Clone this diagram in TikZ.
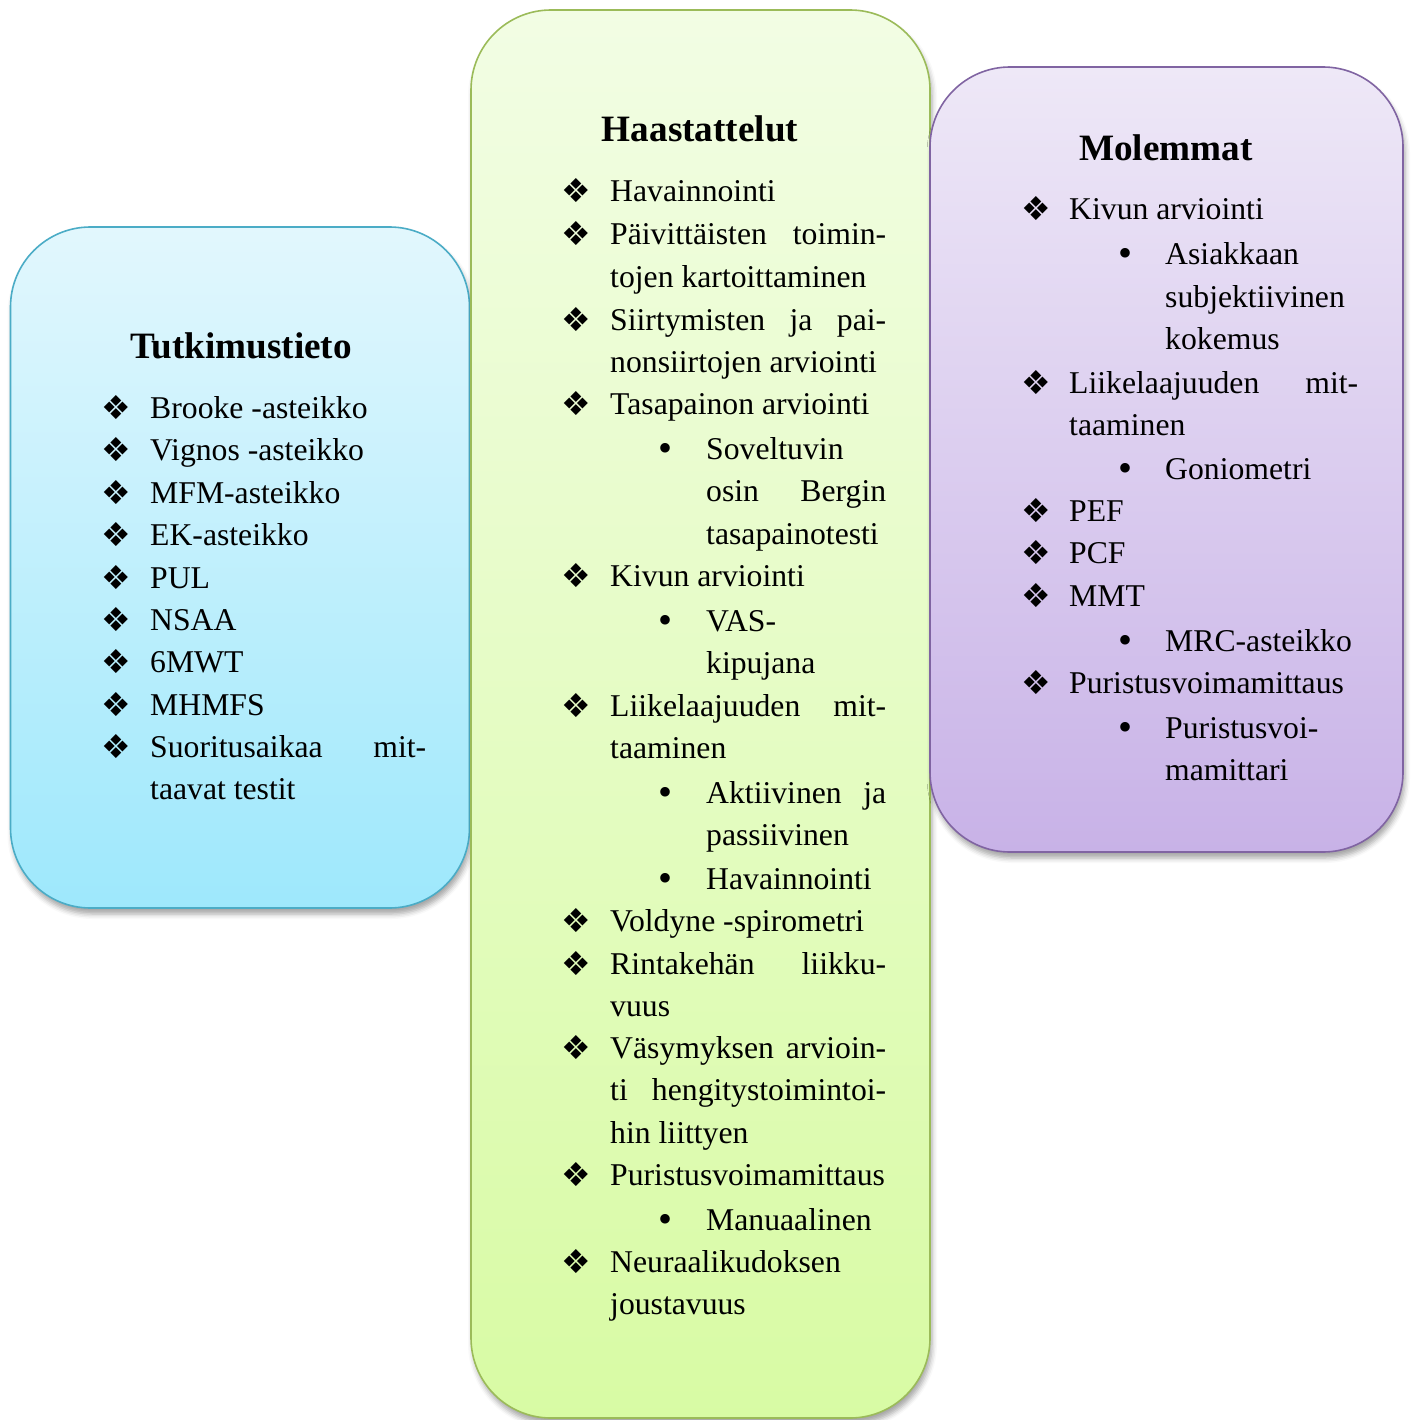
\documentclass[tikz,border=0pt]{standalone}
\usepackage{fontspec}
\setmainfont{Liberation Serif}
\newfontfamily\symfont{DejaVu Sans}
\usepackage{tikz}
\usetikzlibrary{shadows.blur}
\definecolor{tutedge}{RGB}{75,172,198}
\definecolor{tuttop}{RGB}{226,247,253}
\definecolor{tutbot}{RGB}{158,232,252}
\definecolor{haaedge}{RGB}{155,187,89}
\definecolor{haatop}{RGB}{242,253,228}
\definecolor{haabot}{RGB}{216,251,164}
\definecolor{moledge}{RGB}{128,100,162}
\definecolor{moltop}{RGB}{238,232,247}
\definecolor{molbot}{RGB}{200,178,231}
\newcommand{\itemfont}{\fontsize{31.7}{42.5}\selectfont}
\newcommand{\headfont}{\fontsize{37.2}{44}\selectfont\bfseries}
\newcommand{\wrap}[2]{\parbox[t]{#1}{#2}}
\hyphenpenalty=10000
\exhyphenpenalty=10000
\tikzset{
  panel/.style={rectangle,rounded corners=80pt,line width=1.6pt,inner sep=0pt,
    blur shadow={shadow xshift=2pt,shadow yshift=-6pt,shadow blur radius=5pt,shadow opacity=35}},
  head/.style={font=\headfont,inner sep=0pt,anchor=base},
  entry/.style={font=\itemfont,inner sep=0pt,anchor=base west},
  diam/.style={font=\symfont\fontsize{33}{33}\selectfont,inner sep=0pt,anchor=base},
  dotpt/.style={font=\fontsize{40}{40}\selectfont,inner sep=0pt,anchor=base}
}

\begin{document}
\begin{tikzpicture}[x=1pt,y=-1pt]
\useasboundingbox (0,0) rectangle (1410,1420);

% left panel
\node[panel,draw=tutedge,top color=tuttop,bottom color=tutbot,
  minimum width=459pt,minimum height=681pt] (tut) at (240,567.5) {};
% middle panel
\node[panel,draw=haaedge,top color=haatop,bottom color=haabot,
  minimum width=459pt,minimum height=1408pt] (haa) at (700.5,714) {};
% right panel
\node[panel,draw=moledge,top color=moltop,bottom color=molbot,
  minimum width=473pt,minimum height=785pt] (mol) at (1166.5,459.5) {};

\node[head] (tut-head) at (241,358) {Tutkimustieto};
\foreach \i/\y/\t in {1/418/Brooke -asteikko,2/460/Vignos -asteikko,
  3/503/MFM-asteikko,4/545/EK-asteikko,5/588/PUL,6/630/NSAA,7/672/6MWT,
  8/715/MHMFS,9/757/{\wrap{276pt}{Suoritusaikaa\hfill mit-\\taavat testit}}}{
  \node[diam] (tut-d\i) at (116,\y+1) {❖};
  \node[entry] (tut-\i) at (150,\y) {\t};
}

\node[head] (haa-head) at (700,142) {Haastattelut};
\foreach \i/\y/\t in {1/202/Havainnointi,
  2/245/{\wrap{276pt}{Päivittäisten\hfill toimin-\\tojen kartoittaminen}},
  3/330/{\wrap{276pt}{Siirtymisten\hfill ja\hfill pai-\\nonsiirtojen arviointi}},
  4/414/Tasapainon arviointi,
  5/586/Kivun arviointi,
  6/716/{\wrap{276pt}{Liikelaajuuden\hfill mit-\\taaminen}},
  7/931/Voldyne -spirometri,
  8/974/{\wrap{276pt}{Rintakehän\hfill liikku-\\vuus}},
  9/1058/{\wrap{276pt}{Väsymyksen\hfill arvioin-\\ti\hfill hengitystoimintoi-\\hin liittyen}},
  10/1185/Puristusvoimamittaus,
  11/1272/{\wrap{276pt}{Neuraalikudoksen\\joustavuus}}}{
  \node[diam] (haa-d\i) at (576,\y+1) {❖};
  \node[entry] (haa-\i) at (610,\y) {\t};
}
\foreach \i/\y/\t in {1/459/{\wrap{180pt}{Soveltuvin\\osin\hfill Bergin\\tasapainotesti}},
  2/631/{\wrap{180pt}{VAS-\\kipujana}},
  3/803/{\wrap{180pt}{Aktiivinen\hfill ja\\passiivinen}},
  4/889/Havainnointi,
  5/1230/Manuaalinen}{
  \node[dotpt] (haa-s\i) at (665,\y+2) {•};
  \node[entry] (haa-t\i) at (706,\y) {\t};
}

\node[head] (mol-head) at (1166,161) {Molemmat};
\foreach \i/\y/\t in {1/220/Kivun arviointi,
  2/393/{\wrap{289pt}{Liikelaajuuden\hfill mit-\\taaminen}},
  3/521/PEF,4/563/PCF,5/606/MMT,6/693/Puristusvoimamittaus}{
  \node[diam] (mol-d\i) at (1036,\y+1) {❖};
  \node[entry] (mol-\i) at (1069,\y) {\t};
}
\foreach \i/\y/\t in {1/265/{\wrap{193pt}{Asiakkaan\\subjektiivinen\\kokemus}},
  2/479/Goniometri,3/651/MRC-asteikko,
  4/738/{\wrap{193pt}{Puristusvoi-\\mamittari}}}{
  \node[dotpt] (mol-s\i) at (1125,\y+2) {•};
  \node[entry] (mol-t\i) at (1165,\y) {\t};
}

\end{tikzpicture}
\end{document}
